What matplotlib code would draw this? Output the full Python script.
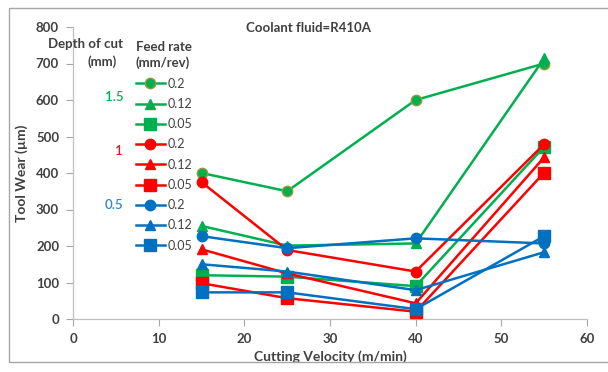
import matplotlib
matplotlib.use("Agg")
import matplotlib.pyplot as plt
from matplotlib.patches import Rectangle

plt.rcParams['font.family'] = ['Lato', 'DejaVu Sans']

# Cutting velocity (m/min)
velocity = [15, 25, 40, 55]

# Tool wear (µm) for each depth of cut / feed rate combination
wear_d15_f020 = [400, 350, 600, 700]
wear_d15_f012 = [255, 201, 207, 714]
wear_d15_f005 = [120, 116, 90, 472]
wear_d10_f020 = [375, 189, 130, 479]
wear_d10_f012 = [191, 125, 43, 443]
wear_d10_f005 = [98, 57, 20, 401]
wear_d05_f020 = [227, 194, 221, 207]
wear_d05_f012 = [150, 130, 79, 183]
wear_d05_f005 = [73, 73, 27, 227]

feed_labels = ['0.2', '0.12', '0.05']
depth_labels = ['1.5', '1', '0.5']

x_ticks = [0, 10, 20, 30, 40, 50, 60]
y_ticks = [0, 100, 200, 300, 400, 500, 600, 700, 800]

GREEN = '#00B050'
RED = '#FF0000'
BLUE = '#0070C0'
TEXT = '#404040'

series = [
    (wear_d15_f020, GREEN, 'o', feed_labels[0]),
    (wear_d15_f012, GREEN, '^', feed_labels[1]),
    (wear_d15_f005, GREEN, 's', feed_labels[2]),
    (wear_d10_f020, RED, 'o', feed_labels[0]),
    (wear_d10_f012, RED, '^', feed_labels[1]),
    (wear_d10_f005, RED, 's', feed_labels[2]),
    (wear_d05_f020, BLUE, 'o', feed_labels[0]),
    (wear_d05_f012, BLUE, '^', feed_labels[1]),
    (wear_d05_f005, BLUE, 's', feed_labels[2]),
]

W, H = 608, 372
fig = plt.figure(figsize=(W / 100, H / 100), dpi=100)
ax = fig.add_axes([73 / W, 1 - 319 / H, (587 - 73) / W, (319 - 27) / H])

# outer chart frame
fig.patches.append(Rectangle((9 / W, 1 - 362 / H), 1.2, (362 - 8) / H,
                             transform=fig.transFigure, fill=False,
                             edgecolor='#A6A6A6', linewidth=1.0))

handles = []
for i, (vals, col, mk, lab) in enumerate(series):
    edge = '#9A9A3C' if (col == GREEN and mk == 'o') else col
    msize = 8 if mk == 's' else 7.5
    ln, = ax.plot(velocity, vals, color=col, marker=mk, markersize=msize,
                  markerfacecolor=col, markeredgecolor=edge,
                  markeredgewidth=1.0, linewidth=1.8, label=lab,
                  zorder=3 + i * 0.1)
    handles.append(ln)

ax.set_xlim(0, 60)
ax.set_ylim(0, 800)
ax.set_xticks(x_ticks)
ax.set_yticks(y_ticks)
ax.tick_params(axis='both', colors='#A6A6A6', length=5, width=0.8,
               labelcolor=TEXT, labelsize=9.5)
ax.tick_params(axis='y', pad=5)
ax.tick_params(axis='x', pad=5)
for t in ax.get_xticklabels() + ax.get_yticklabels():
    t.set_fontweight('bold')
for side in ['top', 'right']:
    ax.spines[side].set_visible(False)
for side in ['left', 'bottom']:
    ax.spines[side].set_color('#BFBFBF')
    ax.spines[side].set_linewidth(0.9)

ax.set_xlabel('Cutting Velocity (m/min)', fontsize=10, fontweight='bold',
              color=TEXT, labelpad=4)
ax.set_ylabel('Tool Wear (µm)', fontsize=10, fontweight='bold',
              color=TEXT, labelpad=6)

fig.text(309 / W, 1 - 28 / H, 'Coolant fluid=R410A', fontsize=9.5,
         fontweight='bold', color=TEXT, ha='center', va='center')

# legend with feed rate entries
leg = ax.legend(handles=handles, loc='upper left',
                bbox_to_anchor=(131 / W, 1 - 36 / H),
                bbox_transform=fig.transFigure, frameon=False,
                fontsize=9, labelspacing=0.66, handlelength=2.3,
                handletextpad=0.2, title='Feed rate\n(mm/rev)',
                title_fontproperties={'weight': 'bold', 'size': 9.5},
                alignment='left', borderaxespad=0)
for t in leg.get_texts():
    t.set_color(TEXT)
leg.get_title().set_color(TEXT)
leg.get_title().set_linespacing(1.35)

# depth-of-cut column heading and group labels
fig.text(86 / W, 1 - 44 / H, 'Depth of cut', fontsize=9.5,
         fontweight='bold', color=TEXT, ha='center', va='center')
fig.text(102 / W, 1 - 62 / H, '(mm)', fontsize=9.5,
         fontweight='bold', color=TEXT, ha='center', va='center')
fig.text(114 / W, 1 - 97 / H, depth_labels[0], fontsize=9.5,
         color=GREEN, ha='center', va='center', fontweight='semibold')
fig.text(119 / W, 1 - 151 / H, depth_labels[1], fontsize=9.5,
         color='#D02020', ha='center', va='center', fontweight='semibold')
fig.text(114 / W, 1 - 205 / H, depth_labels[2], fontsize=9.5,
         color='#2E86D0', ha='center', va='center', fontweight='semibold')

fig.savefig('out.png', dpi=100)
